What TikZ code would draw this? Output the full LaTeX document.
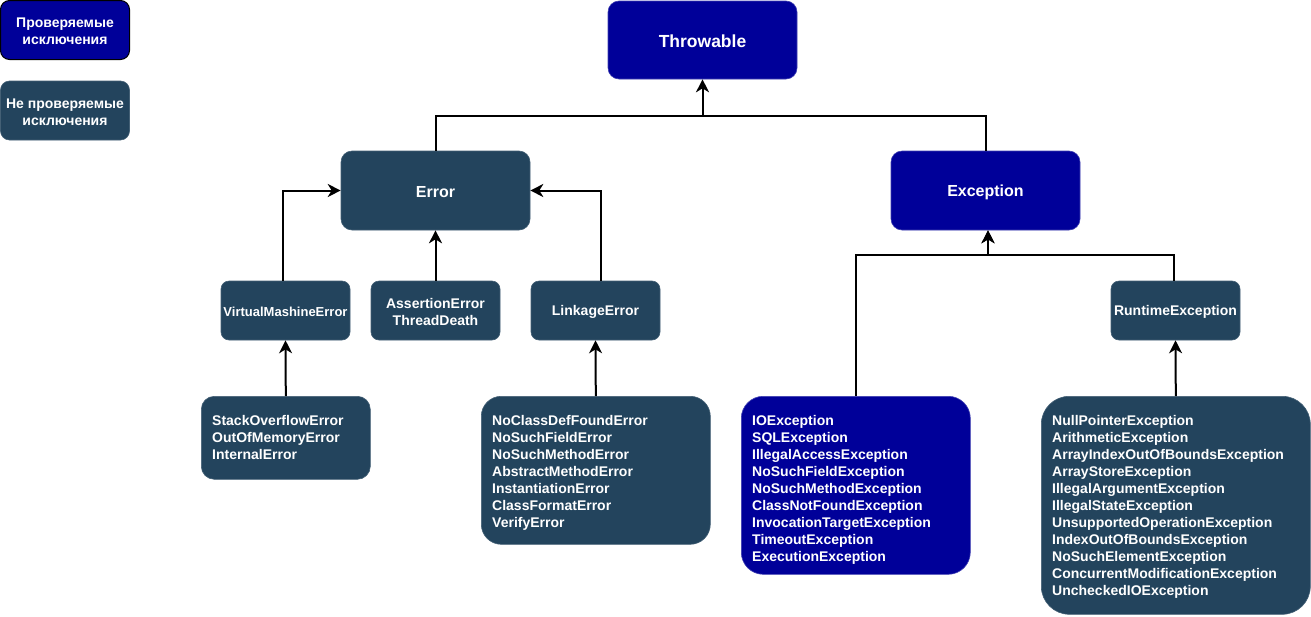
\documentclass[tikz,border=0pt]{standalone}
\usepackage{fontspec}
\setmainfont{Liberation Sans}
\usetikzlibrary{arrows.meta}
\definecolor{chk}{RGB}{0,0,153}
\definecolor{unc}{RGB}{35,68,93}
\begin{document}
\begin{tikzpicture}[x=1pt,y=-1pt,
  chkbox/.style={fill=chk, draw=chk!75!white, line width=0.6pt, text=white, inner sep=0pt},
  uncbox/.style={fill=unc, draw=unc!85!white, line width=0.6pt, text=white, inner sep=0pt},
  lbl/.style={text=white, inner sep=0pt, font=\bfseries\fontsize{14}{17}\selectfont, align=center},
  listtext/.style={text=white, inner sep=0pt, align=left, font=\bfseries\fontsize{14}{17}\selectfont},
  conn/.style={line width=2pt, black},
  arr/.style={conn, -{Stealth[length=13pt,width=13pt,inset=4pt]}}
]
\useasboundingbox (0,0) rectangle (1311,616);

% legend
\node[chkbox, draw=black, line width=1pt, minimum width=129, minimum height=59, rounded corners=9,
  label={[lbl, yshift=-1pt]center:{Проверяемые\\исключения}}] (lg1) at (65,30) {};
\node[uncbox, minimum width=129, minimum height=59, rounded corners=9,
  label={[lbl, yshift=-2pt]center:{Не проверяемые\\исключения}}] (lg2) at (65,110.5) {};

% main nodes
\node[chkbox, minimum width=189, minimum height=78, rounded corners=11,
  label={[lbl, yshift=-1pt, font=\bfseries\fontsize{17.5}{20}\selectfont]center:Throwable}] (thr) at (702.5,40) {};
\node[uncbox, minimum width=189, minimum height=79, rounded corners=11,
  label={[lbl, yshift=-1.5pt, font=\bfseries\fontsize{16}{19}\selectfont]center:Error}] (err) at (435.5,190.5) {};
\node[chkbox, minimum width=189, minimum height=79, rounded corners=11,
  label={[lbl, yshift=-1.5pt, font=\bfseries\fontsize{16}{19}\selectfont]center:Exception}] (exc) at (985.5,190.5) {};

\node[uncbox, minimum width=129, minimum height=59, rounded corners=8,
  label={[lbl, yshift=-1pt, font=\bfseries\fontsize{13}{16}\selectfont]center:VirtualMashineError}] (vme) at (285.5,310.5) {};
\node[uncbox, minimum width=129, minimum height=59, rounded corners=8,
  label={[lbl, yshift=-1pt]center:{AssertionError\\ThreadDeath}}] (ae) at (435.5,310.5) {};
\node[uncbox, minimum width=129, minimum height=59, rounded corners=8,
  label={[lbl, yshift=-1pt]center:LinkageError}] (le) at (595.5,310.5) {};
\node[uncbox, minimum width=129, minimum height=59, rounded corners=8,
  label={[lbl, yshift=-1pt]center:RuntimeException}] (rt) at (1175.5,310.5) {};

% list boxes
\node[uncbox, minimum width=169, minimum height=83, rounded corners=13, anchor=north west] (so) at (201,396) {};
\node[listtext, anchor=north west] (sot) at (212,415.5) {StackOverflowError\\OutOfMemoryError\\InternalError};

\node[uncbox, minimum width=229, minimum height=148, rounded corners=20, anchor=north west] (nc) at (481,396) {};
\node[listtext, anchor=north west] (nct) at (492,415.5) {NoClassDefFoundError\\NoSuchFieldError\\NoSuchMethodError\\AbstractMethodError\\InstantiationError\\ClassFormatError\\VerifyError};

\node[chkbox, minimum width=229, minimum height=178, rounded corners=22, anchor=north west] (io) at (741,396) {};
\node[listtext, anchor=north west] (iot) at (752,415.5) {IOException\\SQLException\\IllegalAccessException\\NoSuchFieldException\\NoSuchMethodException\\ClassNotFoundException\\InvocationTargetException\\TimeoutException\\ExecutionException};

\node[uncbox, minimum width=269, minimum height=218, rounded corners=28, anchor=north west] (np) at (1041,396) {};
\node[listtext, anchor=north west] (npt) at (1052,415.5) {NullPointerException\\ArithmeticException\\ArrayIndexOutOfBoundsException\\ArrayStoreException\\IllegalArgumentException\\IllegalStateException\\UnsupportedOperationException\\IndexOutOfBoundsException\\NoSuchElementException\\ConcurrentModificationException\\UncheckedIOException};

% connectors
\coordinate (jt) at (702.5,116);
\coordinate (jx) at (988,255);
\draw[conn] (err.north) |- (jt);
\draw[conn] (exc.north) |- (jt);
\draw[arr] (jt) -- (thr.south);

\draw[arr] ([xshift=-2.5pt]vme.north) |- (err.west);
\draw[arr] (ae.north) -- (err.south);
\draw[arr] ([xshift=5pt]le.north) |- (err.east);
\draw[arr] (so.north) -- (vme.south);
\draw[arr] (nc.north) -- (le.south);

\draw[arr] (io.north) |- (jx) -- (jx |- exc.south);
\draw[arr] ([xshift=-2pt]rt.north) |- (jx) -- (jx |- exc.south);
\draw[arr] (np.north) -- (rt.south);
\end{tikzpicture}
\end{document}
